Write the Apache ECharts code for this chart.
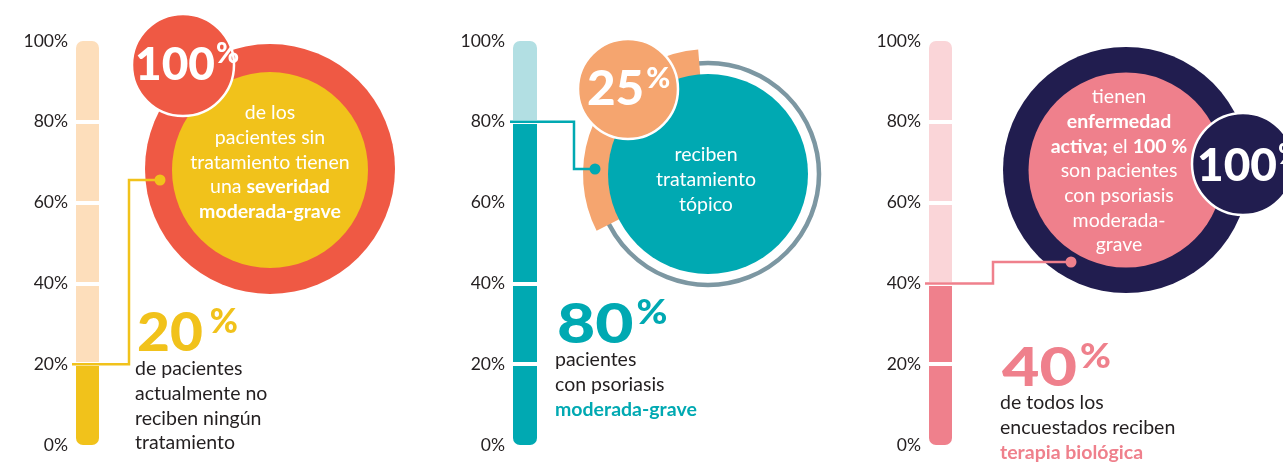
<!DOCTYPE html>
<html><head><meta charset="utf-8">
<script src="https://cdn.jsdelivr.net/npm/echarts@6.0.0/dist/echarts.min.js"></script>
<style>html,body{margin:0;padding:0;background:#fff}#c{width:1283px;height:465px}</style>
</head><body><div id="c"></div>
<script>
// ---- data ----
const categories = ['Sin tratamiento', 'Psoriasis moderada-grave', 'Terapia biológica'];
const filledValues = [20, 80, 40];
const remainderValues = [80, 20, 60];
const gapLevels1 = [20, 40, 60, 80];
const gapLevels2 = [20, 40, 80];
const gapLevels3 = [20, 40, 60, 80];
const tickLabels = ['0%', '20%', '40%', '60%', '80%', '100%'];
const bigNumbers = ['20', '80', '40'];
const circleNumbers = ['100', '25', '100'];
const circleTexts1 = ['de los', 'pacientes sin', 'tratamiento tienen', 'una {b|severidad}', '{b|moderada-grave}'];
const circleTexts2 = ['reciben', 'tratamiento', 'tópico'];
const circleTexts3 = ['tienen', '{b|enfermedad}', '{b|activa;} el {b|100 %}', 'son pacientes', 'con psoriasis', 'moderada-', 'grave'];
const bodyTexts1 = ['de pacientes', 'actualmente no', 'reciben ningún', 'tratamiento'];
const bodyTexts2 = ['pacientes', 'con psoriasis', '{h|moderada-grave}'];
const bodyTexts3 = ['de todos los', 'encuestados reciben', '{h|terapia biológica}'];

// ---- styles / layout ----
const FONT = 'Lato, "Open Sans", sans-serif';
const DARK = '#231F20';
const TS = 19.5;
const filledColors = ['#F1C21B', '#00A9B2', '#EF808C'];
const lightColors = ['#FDDEBB', '#B2DFE3', '#FAD5D8'];
const gaps = [gapLevels1, gapLevels2, gapLevels3];
const gridBoxes = [{left: 76, width: 23}, {left: 513, width: 24}, {left: 929, width: 23}];

const chart = echarts.init(document.getElementById('c'), null, {renderer: 'canvas'});

const grid = gridBoxes.map(g => ({left: g.left, width: g.width, top: 41, height: 404}));
const xAxis = gridBoxes.map((g, i) => ({type: 'category', gridIndex: i, data: [categories[i]], show: false}));
const yAxis = gridBoxes.map((g, i) => ({
  type: 'value', gridIndex: i, min: 0, max: 100, interval: 20,
  axisLine: {show: false}, axisTick: {show: false}, splitLine: {show: false},
  axisLabel: {formatter: v => tickLabels[v / 20], margin: 8, fontSize: 17.5, color: DARK, fontFamily: FONT}
}));
const series = [];
gridBoxes.forEach((g, i) => {
  series.push({
    type: 'bar', xAxisIndex: i, yAxisIndex: i, stack: 's' + i, barWidth: '100%',
    data: [filledValues[i]], silent: true,
    itemStyle: {color: filledColors[i], borderRadius: [0, 0, 7, 7]}
  });
  series.push({
    type: 'bar', xAxisIndex: i, yAxisIndex: i, stack: 's' + i, barWidth: '100%',
    data: [remainderValues[i]], silent: true,
    itemStyle: {color: lightColors[i], borderRadius: [7, 7, 0, 0]},
    markLine: {
      silent: true, symbol: 'none', z: 10, animation: false,
      label: {show: false},
      lineStyle: {color: '#fff', width: 4, type: 'solid'},
      emphasis: {disabled: true},
      data: gaps[i].map(v => ({yAxis: v}))
    }
  });
});

chart.setOption({animation: false, grid, xAxis, yAxis, series});

// ---- decorations ----
const mctx = document.createElement('canvas').getContext('2d');
function textW(t, size) { mctx.font = '900 ' + size + 'px ' + FONT; return mctx.measureText(t).width; }

function numberPair(num, left, cy, size, pSize, color, gap, sx) {
  const w = textW(num, size) * sx;
  const digitTop = cy - size * 0.36;
  const pcy = digitTop - 4 + pSize * 0.36;
  return [
    {type: 'text', z: 50, x: left, y: cy + size * 0.04, scaleX: sx, style: {text: num, x: 0, y: 0, fontSize: size, fontWeight: 900, fontFamily: FONT, fill: color, align: 'left', verticalAlign: 'middle'}},
    {type: 'text', z: 50, x: left + w + gap, y: pcy + pSize * 0.04, scaleX: sx > 1.1 ? 1.1 : 1, style: {text: '%', x: 0, y: 0, fontSize: pSize, fontWeight: 900, fontFamily: FONT, fill: color, align: 'left', verticalAlign: 'middle'}}
  ];
}
const LH = 24.7;
function block(lines, x, firstCy, align, fill, rich) {
  return {type: 'text', z: 50, style: {
    text: lines.join('\n'), x: x, y: firstCy - LH / 2, align: align, verticalAlign: 'top',
    fontSize: TS, fontFamily: FONT, fill: fill, lineHeight: LH, rich: rich
  }};
}
const deg = Math.PI / 180;
const graphics = [
  // panel 1 circles
  {type: 'circle', z: 20, shape: {cx: 270, cy: 169, r: 125}, style: {fill: '#EF5944'}},
  {type: 'circle', z: 21, shape: {cx: 270, cy: 170, r: 98}, style: {fill: '#F1C21B'}},
  {type: 'circle', z: 22, shape: {cx: 183, cy: 65, r: 51}, style: {fill: '#EF5944', stroke: '#fff', lineWidth: 2.5}},
  // panel 2 circles
  {type: 'circle', z: 20, shape: {cx: 708, cy: 174, r: 111}, style: {fill: 'none', stroke: '#7C97A2', lineWidth: 4.5}},
  {type: 'sector', z: 21, shape: {cx: 708, cy: 174, r0: 98, r: 125, startAngle: 153 * deg, endAngle: 265.5 * deg, clockwise: true}, style: {fill: '#F5A56F'}},
  {type: 'circle', z: 22, shape: {cx: 708, cy: 174, r: 100}, style: {fill: '#00A9B2'}},
  {type: 'circle', z: 23, shape: {cx: 628, cy: 89, r: 50}, style: {fill: '#F5A56F', stroke: '#fff', lineWidth: 2.5}},
  // panel 3 circles
  {type: 'circle', z: 20, shape: {cx: 1126, cy: 170, r: 123}, style: {fill: '#211D4F'}},
  {type: 'circle', z: 21, shape: {cx: 1126, cy: 170, r: 97.5}, style: {fill: '#EF808C'}},
  {type: 'circle', z: 22, shape: {cx: 1243, cy: 164, r: 51}, style: {fill: '#211D4F', stroke: '#fff', lineWidth: 2.5}},
];

// connectors from each bar's value level (pixel from the y axis scale)
const connectors = [
  {startX: 72, kneeX: 129, dotX: 160, dotY: 180},
  {startX: 510, kneeX: 574, dotX: 595, dotY: 169},
  {startX: 925, kneeX: 993, dotX: 1071, dotY: 262}
];
connectors.forEach((c, i) => {
  const y0 = chart.convertToPixel({yAxisIndex: i}, filledValues[i]);
  graphics.push({type: 'polyline', z: 40, shape: {points: [[c.startX, y0], [c.kneeX, y0], [c.kneeX, c.dotY], [c.dotX, c.dotY]]}, style: {fill: 'none', stroke: filledColors[i], lineWidth: 2.5}});
  graphics.push({type: 'circle', z: 41, shape: {cx: c.dotX, cy: c.dotY, r: 5.5}, style: {fill: filledColors[i]}});
});

const whiteBold = {b: {fontWeight: 'bold', fontSize: TS, fontFamily: FONT, fill: '#fff', lineHeight: LH}};
graphics.push(block(circleTexts1, 270, 113, 'center', '#fff', whiteBold));
graphics.push(block(circleTexts2, 706, 155, 'center', '#fff', whiteBold));
graphics.push(block(circleTexts3, 1119, 97, 'center', '#fff', whiteBold));
graphics.push(block(bodyTexts1, 135, 369, 'left', DARK, {}));
graphics.push(block(bodyTexts2, 555, 360, 'left', DARK, {h: {fontWeight: 'bold', fontSize: TS, fontFamily: FONT, fill: filledColors[1], lineHeight: LH}}));
graphics.push(block(bodyTexts3, 1000, 403, 'left', DARK, {h: {fontWeight: 'bold', fontSize: TS, fontFamily: FONT, fill: filledColors[2], lineHeight: LH}}));

graphics.push(...numberPair(bigNumbers[0], 137, 331.5, 53, 34, filledColors[0], 7, 1.07));
graphics.push(...numberPair(bigNumbers[1], 557, 323, 55, 34, filledColors[1], 3, 1.2));
graphics.push(...numberPair(bigNumbers[2], 1002, 366.5, 53, 34, filledColors[2], 3, 1.22));
graphics.push(...numberPair(circleNumbers[0], 135, 63.5, 46, 28, '#fff', 1, 1));
graphics.push(...numberPair(circleNumbers[1], 587, 87.5, 47, 29, '#fff', 2, 1.05));
graphics.push(...numberPair(circleNumbers[2], 1197, 164.5, 46, 28, '#fff', 1, 1));

chart.setOption({graphic: graphics});
</script></body></html>
